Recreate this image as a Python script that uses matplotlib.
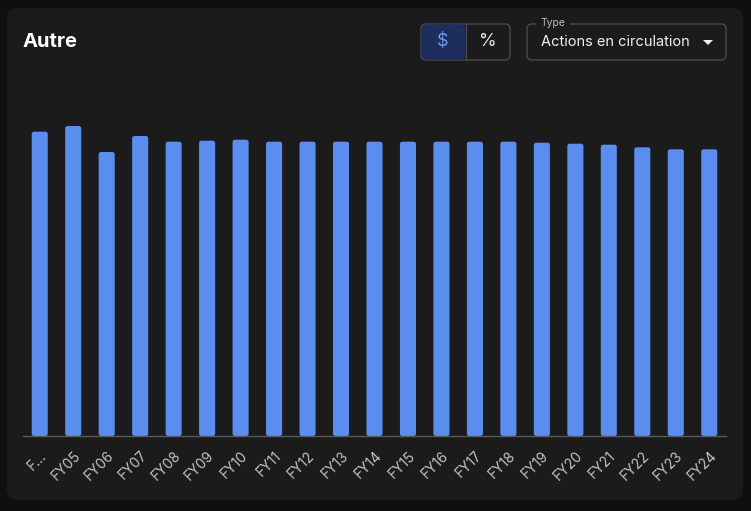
import matplotlib
matplotlib.use("Agg")
import matplotlib.pyplot as plt
from matplotlib.patches import FancyBboxPatch, Polygon

plt.rcParams['font.family'] = ['Inter', 'DejaVu Sans']

# shares outstanding (arbitrary units)
years = ['F…', 'FY05', 'FY06', 'FY07', 'FY08', 'FY09', 'FY10', 'FY11', 'FY12', 'FY13', 'FY14',
         'FY15', 'FY16', 'FY17', 'FY18', 'FY19', 'FY20', 'FY21', 'FY22', 'FY23', 'FY24']
shares = [30.43, 31.0, 28.4, 30.0, 29.43, 29.53, 29.63, 29.43, 29.43, 29.43, 29.43,
          29.43, 29.43, 29.43, 29.43, 29.33, 29.23, 29.13, 28.87, 28.67, 28.67]

W, H = 751, 511
fig = plt.figure(figsize=(W / 100, H / 100), dpi=100)
fig.patch.set_facecolor('#0f0f0f')

# card background
bg = fig.add_axes([0, 0, 1, 1])
bg.set_xlim(0, W)
bg.set_ylim(H, 0)
bg.axis('off')
bg.add_patch(FancyBboxPatch((7, 8), 736, 492, boxstyle="round,pad=0,rounding_size=10",
                            facecolor='#1b1b1b', edgecolor='none'))
bg.text(23, 42, 'Autre', color='white', fontsize=14.5, fontweight='bold', va='center', ha='left')

# $ / % toggle
bg.add_patch(FancyBboxPatch((421, 24), 89, 36, boxstyle="round,pad=0,rounding_size=5",
                            facecolor='none', edgecolor='#4a4a4a', lw=1))
bg.add_patch(FancyBboxPatch((421.5, 24.5), 44, 35, boxstyle="round,pad=0,rounding_size=5",
                            facecolor='#1c2d5e', edgecolor='none'))
bg.plot([465.5, 465.5], [24, 60], color='#4a4a4a', lw=1)
bg.text(443, 42, '$', color='#6a9bf0', fontsize=13, ha='center', va='center')
bg.text(488, 42, '%', color='#e6e6e6', fontsize=13, ha='center', va='center')

# dropdown
bg.add_patch(FancyBboxPatch((527, 24), 199, 36, boxstyle="round,pad=0,rounding_size=5",
                            facecolor='none', edgecolor='#4a4a4a', lw=1))
bg.add_patch(plt.Rectangle((536, 19), 34, 8, facecolor='#1b1b1b', edgecolor='none'))
bg.text(541, 22.5, 'Type', color='#bdbdbd', fontsize=7.5, ha='left', va='center')
bg.text(541, 42, 'Actions en circulation', color='#f0f0f0', fontsize=10.5, ha='left', va='center')
bg.add_patch(Polygon([[703, 40], [713, 40], [708, 45]], closed=True, facecolor='#f0f0f0',
                     edgecolor='none'))

# bar chart
ax = fig.add_axes([23 / W, 1 - 436 / H, 703 / W, 336 / H])
ax.set_facecolor('none')
x = list(range(len(years)))
bars = ax.bar(x, shares, width=0.48, color='#5b8def', zorder=2)
ax.set_xlim(-0.5, len(years) - 0.5)
ax.set_ylim(0, 33.6)

# slightly rounded tops: 1 x-unit = 33.5 px, 1 y-unit = 10 px
for b in bars:
    b.set_visible(False)
    ax.add_patch(FancyBboxPatch((b.get_x(), b.get_y()), b.get_width(), b.get_height(),
                                boxstyle="round,pad=0,rounding_size=0.07",
                                mutation_aspect=3.35,
                                facecolor='#5b8def', edgecolor='none', zorder=2))

ax.set_xticks(x)
ax.set_xticklabels(years, rotation=45, ha='right', rotation_mode='anchor',
                   color='#c4c4c4', fontsize=10)
ax.tick_params(axis='x', length=0, pad=9)
ax.set_yticks([])
for s in ['top', 'right', 'left']:
    ax.spines[s].set_visible(False)
ax.spines['bottom'].set_color('#5a5a5a')
ax.spines['bottom'].set_linewidth(1)

fig.savefig('out.png', dpi=100, facecolor=fig.get_facecolor())
